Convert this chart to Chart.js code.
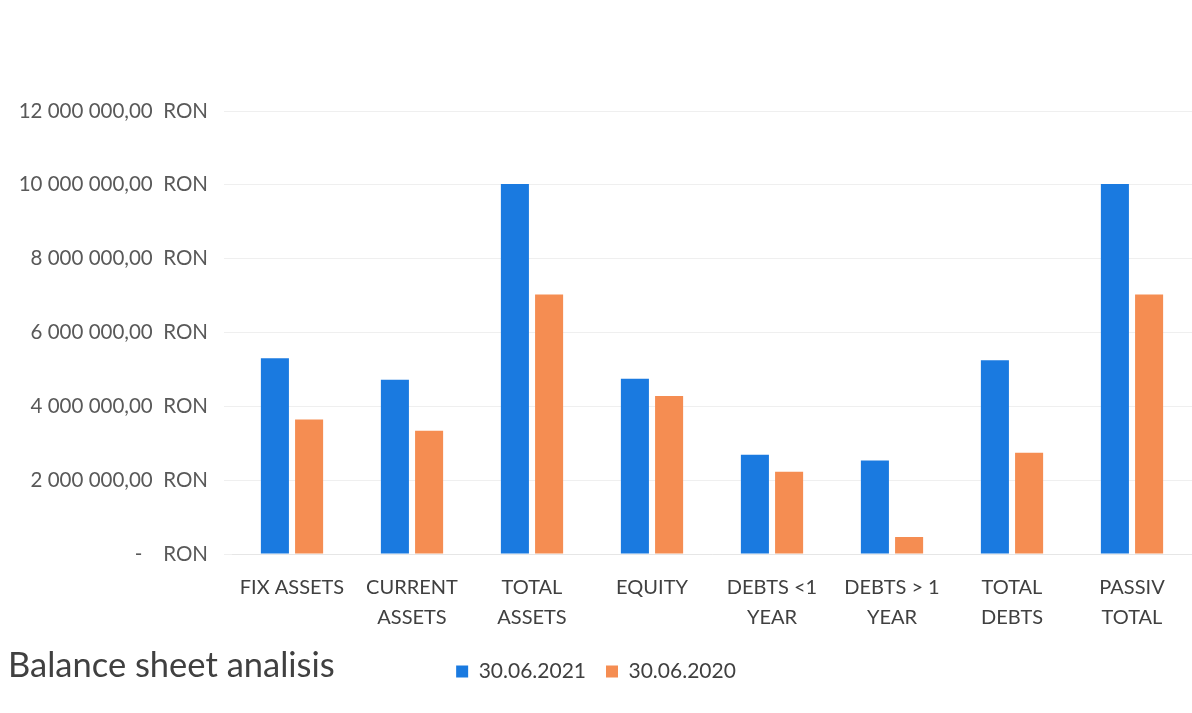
<!DOCTYPE html>
<html>
<head>
<meta charset="utf-8">
<script src="https://cdn.jsdelivr.net/npm/chart.js@4.4.0/dist/chart.umd.min.js"></script>
<style>
    body { margin: 0; background: #ffffff; }
    #wrap { position: relative; width: 1192px; height: 713px; }
    #titlu {
        position: absolute; left: 8px; top: 643px;
        font-family: Lato, "Open Sans", sans-serif; font-size: 34.5px; color: #404040;
    }
</style>
</head>
<body>
<div id="wrap">
    <canvas id="bilantChart" width="1192" height="713"></canvas>
    <div id="titlu">Balance sheet analisis</div>
</div>
<script>
var categorii = [
    ['FIX ASSETS'], ['CURRENT', 'ASSETS'], ['TOTAL', 'ASSETS'], ['EQUITY'],
    ['DEBTS <1', 'YEAR'], ['DEBTS > 1', 'YEAR'], ['TOTAL', 'DEBTS'], ['PASSIV', 'TOTAL']
];
var an2021 = [5300000, 4720000, 10020000, 4750000, 2690000, 2530000, 5250000, 10020000];
var an2020 = [3640000, 3340000, 7030000, 4280000, 2230000, 460000, 2740000, 7030000];
var ticksY = [0, 2000000, 4000000, 6000000, 8000000, 10000000, 12000000];

// formatare etichete axa Y
function formatRon(v) {
    if (v === 0) return '-    RON';
    var s = Math.round(v).toString().replace(/\B(?=(\d{3})+(?!\d))/g, ' ');
    return s + ',00  RON';
}

Chart.defaults.font.family = 'Lato, "Open Sans", sans-serif';
Chart.defaults.color = '#595959';

var bilantChart = new Chart(document.getElementById('bilantChart'), {
    type: 'bar',
    data: {
        labels: categorii,
        datasets: [{
            label: '30.06.2021',
            data: an2021,
            backgroundColor: '#1a7ae0',
            barPercentage: 0.82,
            categoryPercentage: 0.57
        },
        {
            label: '30.06.2020',
            data: an2020,
            backgroundColor: '#f58d52',
            barPercentage: 0.82,
            categoryPercentage: 0.57
        }]
    },
    options: {
        responsive: false,
        animation: false,
        layout: { padding: { left: 0, right: 0, top: 111, bottom: 21 } },
        plugins: {
            legend: {
                position: 'bottom',
                labels: {
                    boxWidth: 12, boxHeight: 12, padding: 20,
                    color: '#404040',
                    font: { size: 21 }
                }
            },
            tooltip: { enabled: false }
        },
        scales: {
            x: {
                grid: { display: false },
                border: { color: '#e6e6e6' },
                ticks: { color: '#404040', font: { size: 20, lineHeight: 1.5 }, padding: 11, maxRotation: 0, autoSkip: false },
                afterFit: function(scale) { scale.height = 87; }
            },
            y: {
                min: 0,
                max: 12000000,
                afterBuildTicks: function(scale) {
                    scale.ticks = ticksY.map(function(v) { return { value: v }; });
                },
                afterFit: function(scale) { scale.width = 232; },
                grid: { color: '#efefef' },
                border: { display: false },
                ticks: {
                    padding: 16,
                    color: '#595959',
                    font: { size: 20.5 },
                    callback: function(v) { return formatRon(v); }
                }
            }
        }
    }
});
</script>
</body>
</html>
